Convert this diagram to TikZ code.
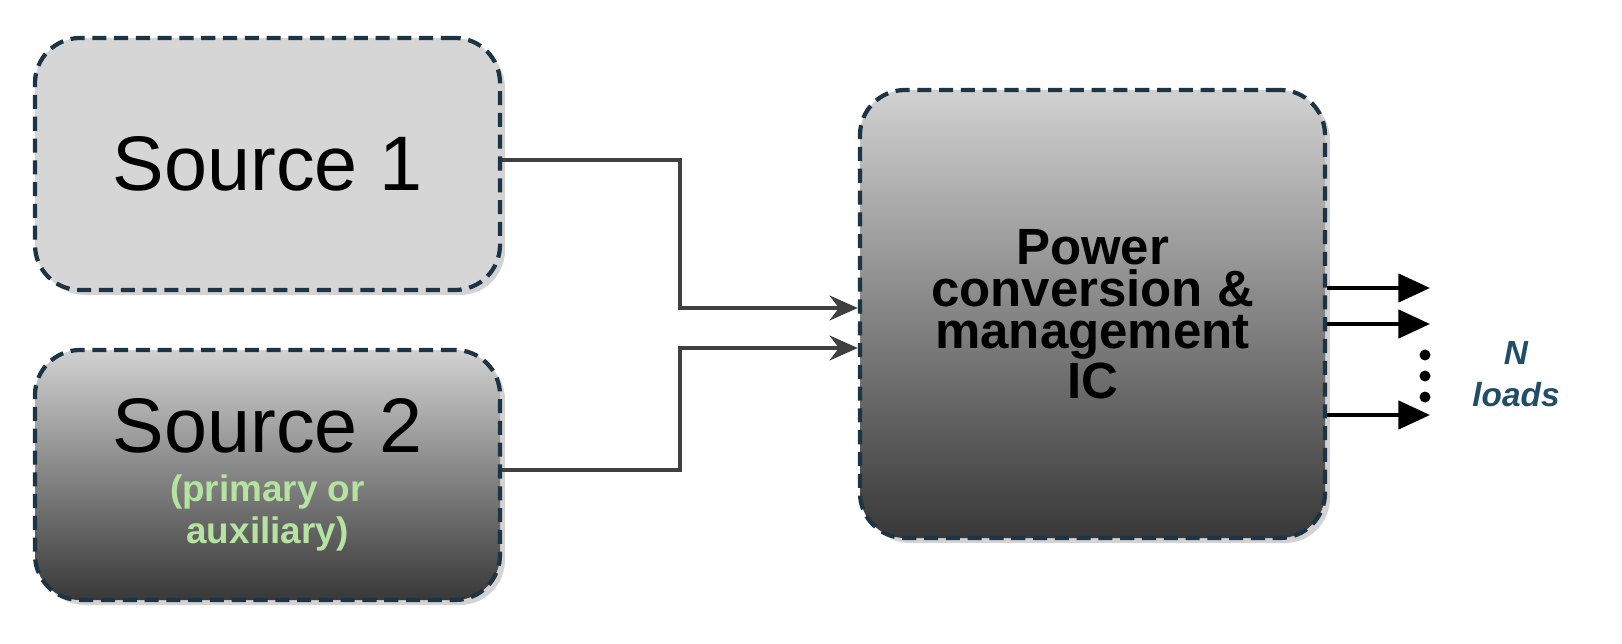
\documentclass[tikz,border=0pt]{standalone}
\usepackage{fontspec}
\setmainfont{Liberation Sans}
\usetikzlibrary{shadows,arrows.meta}
\definecolor{bord}{HTML}{1C3444}
\definecolor{conn}{HTML}{404040}
\definecolor{lgreen}{HTML}{B5E3A0}
\definecolor{nteal}{HTML}{1F4E66}
\tikzset{
 box/.style={draw=bord,line width=1.2pt,dash pattern=on 4pt off 2.2pt,rounded corners=0.45cm,minimum width=4.65cm,align=center,drop shadow={opacity=0.35,shadow xshift=0.05cm,shadow yshift=-0.05cm}},
 grad/.style={top color=black!18,bottom color=black!78},
 wire/.style={draw=conn,line width=1.2pt,-{Stealth[length=8pt,width=7pt]}},
 outarrow/.style={draw=black,line width=1.2pt,-{Triangle[length=9pt,width=8pt]}},
}
\begin{document}
\begin{tikzpicture}
\useasboundingbox (0,0) rectangle (16.22,-6.44);
\node[box,fill=black!16,minimum height=2.52cm] (s1) at (2.675,-1.64) {\fontsize{22}{26}\selectfont Source 1};
\node[box,grad,minimum height=2.5cm] (s2) at (2.675,-4.75) {\fontsize{22}{26}\selectfont Source 2\\[2pt]\fontsize{10.5}{13}\selectfont\bfseries\color{lgreen}(primary or\\\fontsize{10.5}{13}\selectfont\bfseries\color{lgreen}auxiliary)};
\node[box,grad,minimum height=4.48cm] (ic) at (10.925,-3.14) {\fontsize{14.5}{20}\selectfont\bfseries Power\\\fontsize{14.5}{20}\selectfont\bfseries conversion \&\\\fontsize{14.5}{20}\selectfont\bfseries management\\\fontsize{14.5}{20}\selectfont\bfseries IC};
\coordinate (a1) at (s1.east |- 0,-1.6);
\coordinate (a2) at (s2.east |- 0,-4.7);
\draw[wire] (a1) -- (6.8,-1.6) -- (6.8,-3.08) -- (ic.west |- 0,-3.08);
\draw[wire] (a2) -- (6.8,-4.7) -- (6.8,-3.48) -- (ic.west |- 0,-3.48);
\coordinate (t1) at (14.3,-2.88);
\coordinate (t2) at (14.3,-3.24);
\coordinate (t3) at (14.3,-4.15);
\draw[outarrow] (ic.east |- t1) -- (t1);
\draw[outarrow] (ic.east |- t2) -- (t2);
\draw[outarrow] (ic.east |- t3) -- (t3);
\foreach \y/\n in {-3.55/d1,-3.76/d2,-3.97/d3} \fill (14.25,\y) circle (0.055) coordinate (\n);
\node[font=\fontsize{9.5}{12}\selectfont\bfseries\itshape,text=nteal,align=center] (nl) at (15.16,-3.74) {N\\loads};
\end{tikzpicture}
\end{document}
